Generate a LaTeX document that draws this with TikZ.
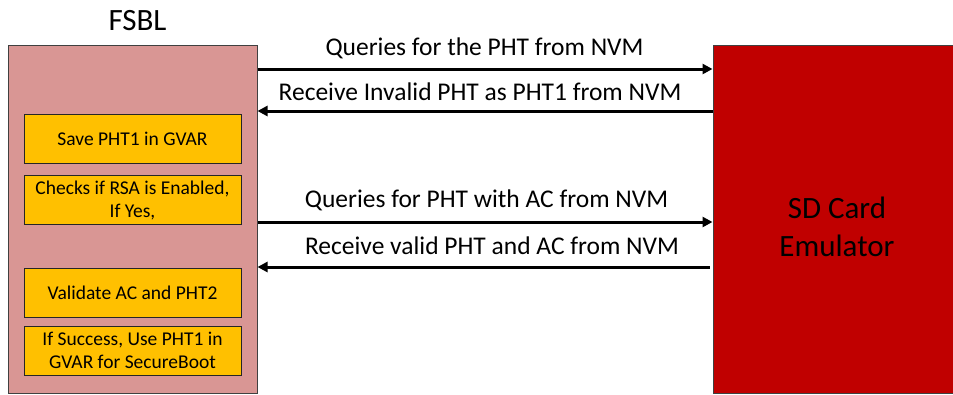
\documentclass[tikz,border=0pt]{standalone}
\usepackage{fontspec}
\setmainfont{Carlito}
\usetikzlibrary{arrows.meta}
\definecolor{fsblpink}{HTML}{D99694}
\definecolor{stepor}{HTML}{FFC000}
\definecolor{sdred}{HTML}{C00000}
\definecolor{edgegray}{HTML}{404040}
\newcommand{\twolines}[2]{\raisebox{-1.5pt}[\height][\depth]{\begin{tabular}{@{}c@{}}#1\\#2\end{tabular}}}
\tikzset{
  fsblbox/.style={draw=edgegray, line width=1pt, fill=fsblpink, inner sep=0pt, minimum width=249pt, minimum height=348pt},
  sdbox/.style={draw=edgegray, line width=1pt, fill=sdred, inner sep=0pt, minimum width=242pt, minimum height=348pt},
  stepbox/.style={draw=black!85, line width=0.9pt, fill=stepor, inner sep=0pt, minimum width=217pt, minimum height=49pt, font=\fontsize{19.5}{23}\selectfont},
  msg/.style={line width=3pt, -{Triangle[length=10pt,width=10pt]}},
  lbl/.style={anchor=base, inner sep=0pt, font=\fontsize{25.5}{30}\selectfont},
}
\begin{document}
\begin{tikzpicture}[x=1pt,y=-1pt]
\useasboundingbox (0,0) rectangle (953,394);
% main boxes
\node[fsblbox] (fsbl) at (132.5,219) {};
\node[sdbox] (sd) at (834,219) {};
\node[anchor=base, inner sep=0pt, font=\fontsize{31}{37}\selectfont] (fsbltitle) at (137.5,30) {FSBL};
\node[inner sep=0pt, font=\fontsize{31}{38}\selectfont] (sdtext) at (837,228) {\twolines{SD Card}{Emulator}};
% step boxes
\node[stepbox] (s1) at (132.5,138.5) {Save PHT1 in GVAR};
\node[stepbox] (s2) at (132.5,199.5) {\twolines{Checks if RSA is Enabled,}{If Yes,}};
\node[stepbox] (s3) at (132.5,292.5) {Validate AC and PHT2};
\node[stepbox] (s4) at (132.5,350.5) {\twolines{If Success, Use PHT1 in}{GVAR for SecureBoot}};
% messages
\coordinate (m1) at (0,69);
\coordinate (m2) at (0,111);
\coordinate (m3) at (0,222);
\coordinate (m4) at (0,267);
\draw[msg] (fsbl.east |- m1) -- (sd.west |- m1);
\draw[msg] (sd.west |- m2) -- (fsbl.east |- m2);
\draw[msg] (fsbl.east |- m3) -- (sd.west |- m3);
\draw[msg, shorten <=3pt] (sd.west |- m4) -- (fsbl.east |- m4);
% labels
\node[lbl] (l1) at (484.5,55) {Queries for the PHT from NVM};
\node[lbl] (l2) at (480,100) {Receive Invalid PHT as PHT1 from NVM};
\node[lbl] (l3) at (486.5,207) {Queries for PHT with AC from NVM};
\node[lbl] (l4) at (492,254) {Receive valid PHT and AC from NVM};
\end{tikzpicture}
\end{document}
